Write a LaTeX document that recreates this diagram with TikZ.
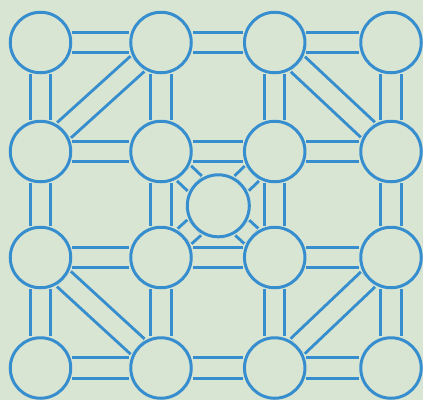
\documentclass[tikz,border=0pt]{standalone}
\usetikzlibrary{backgrounds}
\definecolor{bgc}{RGB}{217,229,211}
\definecolor{linec}{RGB}{55,142,206}
\tikzset{
  vtx/.style={circle, draw=linec, fill=bgc, line width=3pt, minimum size=60.5pt, inner sep=0pt},
  tube/.style={draw=linec, line width=3pt, double=bgc, double distance=17.5pt}
}
\begin{document}
\begin{tikzpicture}[x=1pt,y=1pt]
\useasboundingbox (0,0) rectangle (423,-400);
% nodes
\node[vtx] (a1) at (40.5,-42.5) {};
\node[vtx] (a2) at (161,-42.5) {};
\node[vtx] (a3) at (274.7,-42.5) {};
\node[vtx] (a4) at (391,-42.5) {};
\node[vtx] (b1) at (40.5,-151.5) {};
\node[vtx] (b2) at (161,-151.5) {};
\node[vtx] (b3) at (274.7,-151.5) {};
\node[vtx] (b4) at (391,-151.5) {};
\node[vtx] (c1) at (40.5,-257.5) {};
\node[vtx] (c2) at (161,-257.5) {};
\node[vtx] (c3) at (274.7,-257.5) {};
\node[vtx] (c4) at (391,-257.5) {};
\node[vtx] (d1) at (40.5,-368) {};
\node[vtx] (d2) at (161,-368) {};
\node[vtx] (d3) at (274.7,-368) {};
\node[vtx] (d4) at (391,-368) {};
\node[vtx, minimum size=62pt] (m) at (218.3,-205.8) {};
\begin{pgfonlayer}{background}
\fill[bgc] (0,0) rectangle (423,-400);
% horizontal
\foreach \r in {a,b,c,d}{
  \draw[tube] (\r1) -- (\r2);
  \draw[tube] (\r2) -- (\r3);
  \draw[tube] (\r3) -- (\r4);
}
% vertical
\foreach \c in {1,2,3,4}{
  \draw[tube] (a\c) -- (b\c);
  \draw[tube] (b\c) -- (c\c);
  \draw[tube] (c\c) -- (d\c);
}
% diagonals
\draw[tube] (a2) -- (b1);
\draw[tube] (a3) -- (b4);
\draw[tube] (c1) -- (d2);
\draw[tube] (c4) -- (d3);
% centre
\draw[tube] (m) -- (b2);
\draw[tube] (m) -- (b3);
\draw[tube] (m) -- (c2);
\draw[tube] (m) -- (c3);
\end{pgfonlayer}
\end{tikzpicture}
\end{document}
